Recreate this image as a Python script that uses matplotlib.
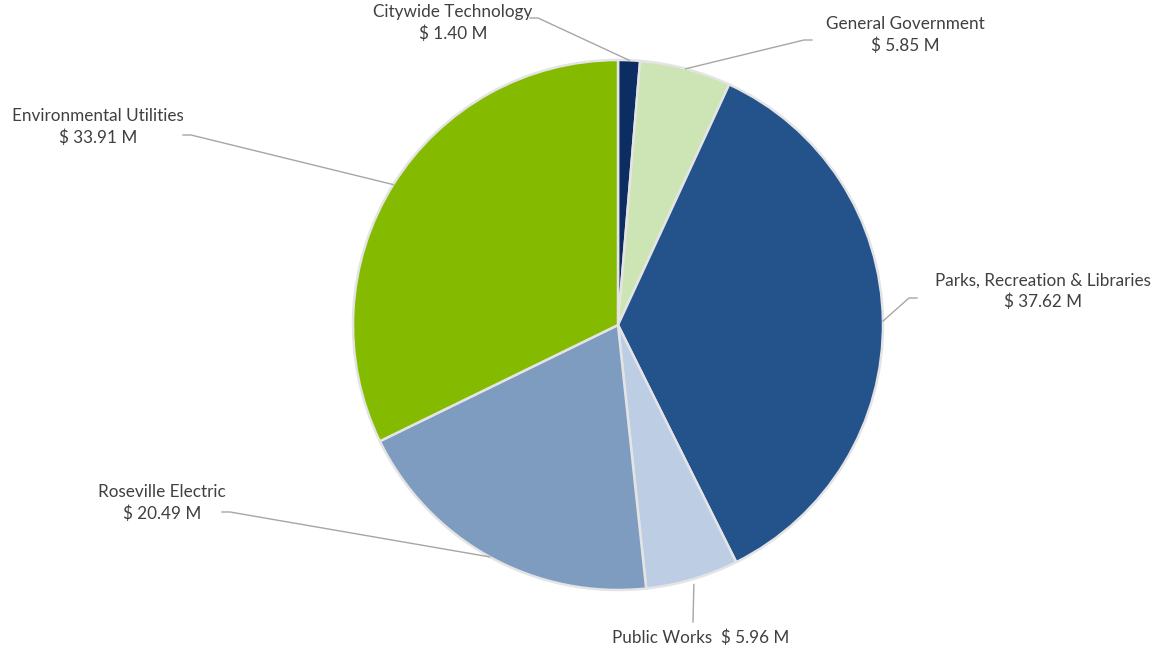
import numpy as np
import matplotlib
matplotlib.use("Agg")
import matplotlib.pyplot as plt

plt.rcParams['font.family'] = ['Lato', 'DejaVu Sans']

# datos do grafico
categorias = ["Citywide Technology", "General Government", "Parks, Recreation & Libraries",
              "Public Works", "Roseville Electric", "Environmental Utilities"]
valores = [1.40, 5.85, 37.62, 5.96, 20.49, 33.91]
cores = ["#0b2d62", "#cde4b4", "#24528a", "#bccde4", "#7e9bc0", "#84bb00"]

# posicao dos rotulos em pixels (x texto, y texto, x cotovelo, y cotovelo, alinhamento)
rotulos = [
    (453, 23, 530, 18, "two"),
    (905, 35, 812, 40, "two"),
    (1043, 291, 917, 298, "two"),
    (701, 638, 693, 622, "one"),
    (162, 503, 222, 512, "two"),
    (98, 127, 183, 135, "two"),
]

W, H = 1157, 651
cx, cy, R = 618, 325, 265

def px(x, y):
    return (x - cx) / R, (cy - y) / R

fig = plt.figure(figsize=(W / 100, H / 100), dpi=100)
ax = fig.add_axes([0, 0, 1, 1])

wedges, _ = ax.pie(valores, colors=cores, startangle=90, counterclock=False, radius=1,
                   wedgeprops=dict(edgecolor="#e4e4e4", linewidth=1.8))

# limites depois do pie (o pie mexe nos limites)
ax.set_xlim(-cx / R, (W - cx) / R)
ax.set_ylim((cy - H) / R, cy / R)
ax.set_aspect('equal')
ax.axis('off')

cor_texto = "#404040"
for w, nome, v, (tx, ty, ex, ey, modo) in zip(wedges, categorias, valores, rotulos):
    ang = np.deg2rad((w.theta1 + w.theta2) / 2)
    x0, y0 = np.cos(ang), np.sin(ang)
    ex_d, ey_d = px(ex, ey)
    if modo == "one":
        ax.plot([x0 * 1.02, ex_d], [y0 * 1.02, ey_d], color="#a6a6a6", lw=1)
        ax.text(*px(tx, ty), f"{nome}  $ {v:.2f} M", ha="center", va="center",
                fontsize=12.3, color=cor_texto)
    else:
        hx = ex_d + (8 / R if ex < cx else -8 / R)
        ax.plot([x0, hx, ex_d], [y0, ey_d, ey_d], color="#a6a6a6", lw=1)
        ax.text(*px(tx, ty), f"{nome}\n$ {v:.2f} M", ha="center", va="center",
                fontsize=12.3, color=cor_texto, linespacing=1.35)

fig.savefig("out.png", dpi=100)
